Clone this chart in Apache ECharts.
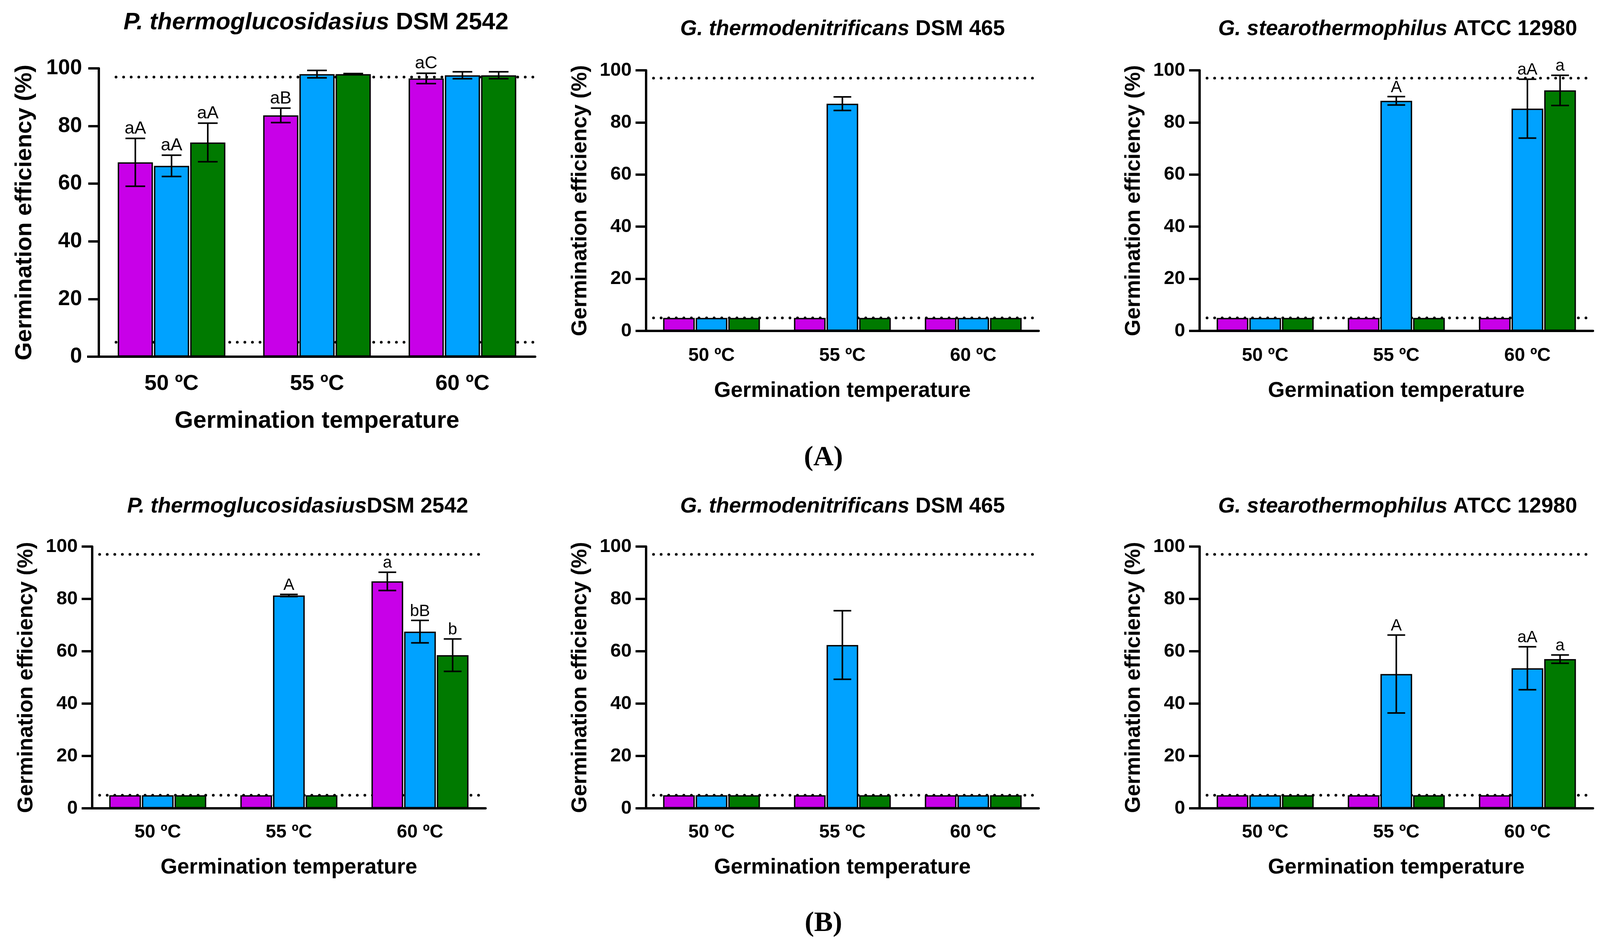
<!DOCTYPE html>
<html><head><meta charset="utf-8">
<script src="https://cdn.jsdelivr.net/npm/echarts@6/dist/echarts.min.js"></script>
<style>html,body{margin:0;padding:0;background:#fff}#c{width:4106px;height:2424px}</style>
</head><body><div id="c"></div>
<script>
// ---------- data ----------
const categories = ['50 ºC', '55 ºC', '60 ºC'];
const yMin = 0, yMax = 100, yInterval = 20;
const thresholds = [97, 5];

// Panel A1: P. thermoglucosidasius DSM 2542 (A)
const a1Magenta = [67.4, 83.7, 96.5], a1MagentaErr = [8.3, 2.5, 1.8], a1MagentaLbl = ['aA', 'aB', 'aC'];
const a1Blue = [66.2, 98.0, 97.6], a1BlueErr = [3.7, 1.3, 1.2], a1BlueLbl = ['aA', '', ''];
const a1Green = [74.3, 98.0, 97.6], a1GreenErr = [6.7, 0.2, 1.2], a1GreenLbl = ['aA', '', ''];
// Panel A2: G. thermodenitrificans DSM 465 (A)
const a2Magenta = [5, 5, 5], a2MagentaErr = [0, 0, 0], a2MagentaLbl = ['', '', ''];
const a2Blue = [5, 87.2, 5], a2BlueErr = [0, 2.6, 0], a2BlueLbl = ['', '', ''];
const a2Green = [5, 5, 5], a2GreenErr = [0, 0, 0], a2GreenLbl = ['', '', ''];
// Panel A3: G. stearothermophilus ATCC 12980 (A)
const a3Magenta = [5, 5, 5], a3MagentaErr = [0, 0, 0], a3MagentaLbl = ['', '', ''];
const a3Blue = [5, 88.3, 85.3], a3BlueErr = [0, 1.6, 11.3], a3BlueLbl = ['', 'A', 'aA'];
const a3Green = [5, 5, 92.3], a3GreenErr = [0, 0, 5.8], a3GreenLbl = ['', '', 'a'];
// Panel B1: P. thermoglucosidasius DSM 2542 (B)
const b1Magenta = [5, 5, 86.7], b1MagentaErr = [0, 0, 3.5], b1MagentaLbl = ['', '', 'a'];
const b1Blue = [5, 81.3, 67.5], b1BlueErr = [0, 0.4, 4.3], b1BlueLbl = ['', 'A', 'bB'];
const b1Green = [5, 5, 58.5], b1GreenErr = [0, 0, 6.2], b1GreenLbl = ['', '', 'b'];
// Panel B2: G. thermodenitrificans DSM 465 (B)
const b2Magenta = [5, 5, 5], b2MagentaErr = [0, 0, 0], b2MagentaLbl = ['', '', ''];
const b2Blue = [5, 62.4, 5], b2BlueErr = [0, 13.1, 0], b2BlueLbl = ['', '', ''];
const b2Green = [5, 5, 5], b2GreenErr = [0, 0, 0], b2GreenLbl = ['', '', ''];
// Panel B3: G. stearothermophilus ATCC 12980 (B)
const b3Magenta = [5, 5, 5], b3MagentaErr = [0, 0, 0], b3MagentaLbl = ['', '', ''];
const b3Blue = [5, 51.3, 53.5], b3BlueErr = [0, 14.9, 8.2], b3BlueLbl = ['', 'A', 'aA'];
const b3Green = [5, 5, 57.0], b3GreenErr = [0, 0, 1.6], b3GreenLbl = ['', '', 'a'];

const titlesItalic = ['P. thermoglucosidasius', 'G. thermodenitrificans', 'G. stearothermophilus',
                      'P. thermoglucosidasius', 'G. thermodenitrificans', 'G. stearothermophilus'];
const titlesPlain = [' DSM 2542', ' DSM 465', ' ATCC 12980', 'DSM 2542', ' DSM 465', ' ATCC 12980'];
const yAxisName = 'Germination efficiency (%)';
const xAxisName = 'Germination temperature';
const rowLabels = ['(A)', '(B)'];

// ---------- styling / layout ----------
const COLORS = ['#C800E8', '#00A2FF', '#007A00'];
const FONT = "'Liberation Sans', Arial, Helvetica, sans-serif";
const CAT_GAP = 0.26, BAR_GAP = 0.03;

const panels = [
  {m:[a1Magenta,a1MagentaErr,a1MagentaLbl], b:[a1Blue,a1BlueErr,a1BlueLbl], g:[a1Green,a1GreenErr,a1GreenLbl],
   left:253, top:175, width:1117, height:738, ext:30, tick:55, cat:56, catM:42, yLM:43, xName:61, xGap:135, yName:60, yGap:160,
   tFont:61, tx:809, ty:58, ann:45, dotStart:44},
  {m:[a2Magenta,a2MagentaErr,a2MagentaLbl], b:[a2Blue,a2BlueErr,a2BlueLbl], g:[a2Green,a2GreenErr,a2GreenLbl],
   left:1654, top:180, width:1005, height:667, ext:26, tick:49, cat:48, catM:40, yLM:37, xName:55, xGap:126, yName:55, yGap:141,
   tFont:55, tx:2157, ty:75, ann:42, dotStart:19},
  {m:[a3Magenta,a3MagentaErr,a3MagentaLbl], b:[a3Blue,a3BlueErr,a3BlueLbl], g:[a3Green,a3GreenErr,a3GreenLbl],
   left:3071, top:180, width:1007, height:667, ext:26, tick:49, cat:48, catM:40, yLM:37, xName:55, xGap:126, yName:55, yGap:141,
   tFont:55, tx:3578, ty:75, ann:42, dotStart:19},
  {m:[b1Magenta,b1MagentaErr,b1MagentaLbl], b:[b1Blue,b1BlueErr,b1BlueLbl], g:[b1Green,b1GreenErr,b1GreenLbl],
   left:236, top:1399, width:1007, height:670, ext:26, tick:49, cat:48, catM:38, yLM:37, xName:55, xGap:124, yName:55, yGap:141,
   tFont:55, tx:762, ty:1297, ann:42, dotStart:19},
  {m:[b2Magenta,b2MagentaErr,b2MagentaLbl], b:[b2Blue,b2BlueErr,b2BlueLbl], g:[b2Green,b2GreenErr,b2GreenLbl],
   left:1654, top:1399, width:1005, height:670, ext:26, tick:49, cat:48, catM:38, yLM:37, xName:55, xGap:124, yName:55, yGap:141,
   tFont:55, tx:2157, ty:1297, ann:42, dotStart:19},
  {m:[b3Magenta,b3MagentaErr,b3MagentaLbl], b:[b3Blue,b3BlueErr,b3BlueLbl], g:[b3Green,b3GreenErr,b3GreenLbl],
   left:3071, top:1399, width:1007, height:670, ext:26, tick:49, cat:48, catM:38, yLM:37, xName:55, xGap:124, yName:55, yGap:141,
   tFont:55, tx:3578, ty:1297, ann:42, dotStart:19}
];

const grid = [], xAxis = [], yAxis = [], series = [], title = [], graphic = [];

function errRenderer(means, errs, labels, sIdx, annFont) {
  return function (params, api) {
    const i = params.dataIndex;
    const m = means[i], e = errs[i], lbl = labels[i];
    const catW = api.size([1, 0])[0];
    const bw = catW * (1 - CAT_GAP) / (3 + 2 * BAR_GAP);
    const dx = (sIdx - 1) * bw * (1 + BAR_GAP);
    const c = api.coord([i, m]);
    const x = c[0] + dx;
    const children = [];
    let topY = c[1];
    if (e > 0) {
      const t = api.coord([i, m + e])[1];
      const b = api.coord([i, m - e])[1];
      const half = bw * 0.28;
      topY = t;
      const st = {stroke: '#000', lineWidth: 4};
      children.push({type: 'line', shape: {x1: x, y1: t, x2: x, y2: b}, style: st});
      children.push({type: 'line', shape: {x1: x - half, y1: t, x2: x + half, y2: t}, style: st});
      children.push({type: 'line', shape: {x1: x - half, y1: b, x2: x + half, y2: b}, style: st});
    }
    if (lbl) {
      children.push({type: 'text', style: {text: lbl, x: x, y: topY - 2, align: 'center', verticalAlign: 'bottom',
        fontSize: annFont, fontFamily: FONT, fill: '#000'}});
    }
    return {type: 'group', children: children};
  };
}

panels.forEach((p, k) => {
  grid.push({left: p.left, top: p.top, width: p.width, height: p.height, containLabel: false});
  xAxis.push({
    type: 'category', gridIndex: k, data: categories,
    axisLine: {lineStyle: {color: '#000', width: 6}},
    axisTick: {alignWithLabel: true, length: 30, lineStyle: {color: '#000', width: 6}},
    axisLabel: {color: '#000', fontSize: p.cat, fontWeight: 'bold', fontFamily: FONT, margin: p.catM},
    name: xAxisName, nameLocation: 'middle', nameGap: p.xGap,
    nameTextStyle: {color: '#000', fontSize: p.xName, fontWeight: 'bold', fontFamily: FONT}
  });
  yAxis.push({
    type: 'value', gridIndex: k, min: yMin, max: yMax, interval: yInterval,
    axisLine: {show: true, lineStyle: {color: '#000', width: 6}},
    axisTick: {show: true, length: 27, lineStyle: {color: '#000', width: 6}},
    axisLabel: {color: '#000', fontSize: p.tick, fontWeight: 'bold', fontFamily: FONT, margin: p.yLM},
    splitLine: {show: false},
    name: yAxisName, nameLocation: 'middle', nameGap: p.yGap,
    nameTextStyle: {color: '#000', fontSize: p.yName, fontWeight: 'bold', fontFamily: FONT}
  });
  // threshold dotted lines (behind bars)
  series.push({
    type: 'custom', xAxisIndex: k, yAxisIndex: k, z: 1, silent: true,
    data: thresholds.map(v => [0, v]),
    renderItem: function (params, api) {
      const cs = params.coordSys;
      const y = api.coord([0, api.value(1)])[1];
      return {type: 'line', shape: {x1: cs.x + p.dotStart, y1: y, x2: cs.x + cs.width, y2: y},
        style: {stroke: '#000', lineWidth: 7, lineDash: [0.1, 19.3], lineCap: 'round'}};
    }
  });
  const groups = [p.m, p.b, p.g];
  groups.forEach((gdat, s) => {
    series.push({
      type: 'bar', name: ['Magenta', 'Blue', 'Green'][s], xAxisIndex: k, yAxisIndex: k, z: 2,
      data: gdat[0], barCategoryGap: (CAT_GAP * 100) + '%', barGap: (BAR_GAP * 100) + '%',
      itemStyle: {color: COLORS[s], borderColor: '#000', borderWidth: 3.5},
      emphasis: {disabled: true}, silent: true
    });
  });
  groups.forEach((gdat, s) => {
    series.push({
      type: 'custom', xAxisIndex: k, yAxisIndex: k, z: 5, silent: true,
      data: gdat[0].map((v, i) => [i, v]),
      renderItem: errRenderer(gdat[0], gdat[1], gdat[2], s, p.ann)
    });
  });
  const lh = Math.round(p.tFont * 1.2);
  title.push({
    text: '{i|' + titlesItalic[k] + '}{b|' + titlesPlain[k] + '}',
    left: p.tx, top: p.ty - lh / 2, textAlign: 'center', padding: 0,
    textStyle: {fontFamily: FONT, fontSize: p.tFont, fontWeight: 'bold', color: '#000', lineHeight: lh,
      rich: {
        i: {fontFamily: FONT, fontSize: p.tFont, fontWeight: 'bold', fontStyle: 'italic', color: '#000', lineHeight: lh},
        b: {fontFamily: FONT, fontSize: p.tFont, fontWeight: 'bold', color: '#000', lineHeight: lh}
      }}
  });
  // x axis line extends a little to the left of the y axis (Prism style offset)
  graphic.push({type: 'line', silent: true,
    shape: {x1: p.left - p.ext, y1: p.top + p.height, x2: p.left, y2: p.top + p.height},
    style: {stroke: '#000', lineWidth: 6}});
});

const rowLabelPos = [[2108, 1172], [2108, 2364]];
rowLabels.forEach((t, r) => {
  graphic.push({type: 'text', silent: true, x: rowLabelPos[r][0], y: rowLabelPos[r][1],
    style: {text: t, align: 'center', verticalAlign: 'middle', fontFamily: "'Liberation Serif', 'Times New Roman', serif",
      fontWeight: 'bold', fontSize: 72, fill: '#000'}});
});

const chart = echarts.init(document.getElementById('c'), null, {renderer: 'canvas'});
chart.setOption({
  animation: false, backgroundColor: '#fff',
  title: title, grid: grid, xAxis: xAxis, yAxis: yAxis, series: series, graphic: graphic
});
</script></body></html>
